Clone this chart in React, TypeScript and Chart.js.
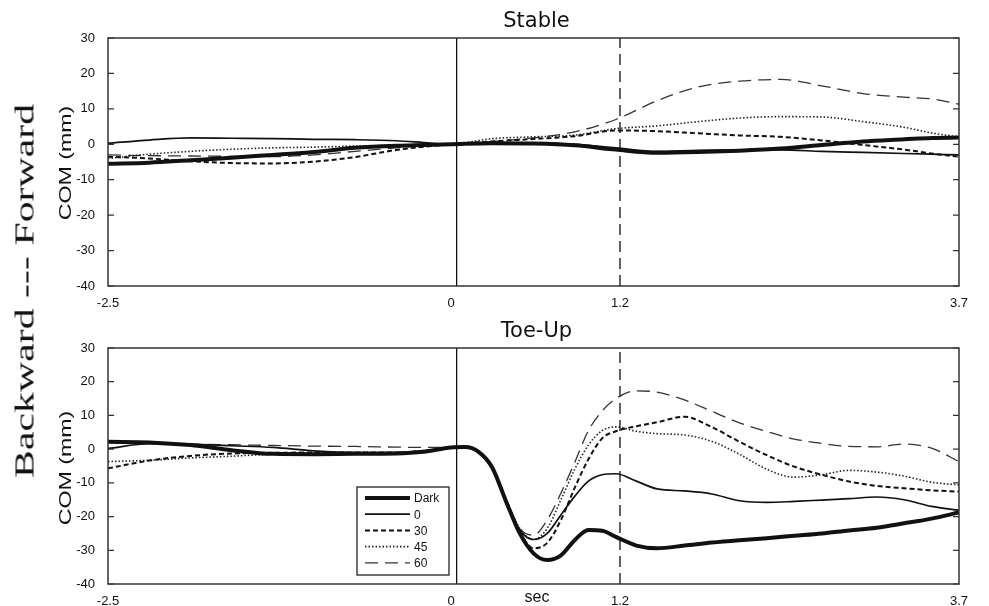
import React, { useEffect, useRef } from "react";
import { Chart, registerables } from "chart.js";

Chart.register(...registerables);

// ---------- data ----------
const seriesNames = ["Dark", "0", "30", "45", "60"];

const stableTime = [-2.5, -2.2, -1.9, -1.6, -1.3, -1.0, -0.7, -0.4, -0.2, 0, 0.3, 0.6, 0.9, 1.2, 1.5, 1.8, 2.1, 2.4, 2.7, 3.0, 3.3, 3.5, 3.7];
const stableDark = [-5.5, -5.2, -4.5, -3.8, -3.0, -2.2, -1.0, -0.4, -0.2, 0, 0.3, 0.2, -0.3, -1.5, -2.4, -2.2, -1.8, -1.2, -0.2, 0.8, 1.4, 1.8, 1.9];
const stable0 = [0.3, 1.2, 1.8, 1.7, 1.6, 1.4, 1.3, 1.0, 0.5, 0, 0.3, 0.3, 0, -1.0, -2.0, -1.7, -1.6, -1.6, -2.0, -2.3, -2.6, -2.8, -3.0];
const stable30 = [-3.5, -4.0, -4.8, -5.3, -5.4, -4.9, -3.6, -1.6, -0.7, 0, 0.8, 1.5, 2.3, 3.9, 3.7, 3.1, 2.5, 2.1, 1.1, -0.2, -1.5, -2.6, -3.5];
const stable45 = [-4.0, -2.8, -2.0, -1.4, -1.0, -0.8, -0.5, -0.3, -0.1, 0, 1.6, 2.1, 2.6, 4.4, 5.2, 6.4, 7.4, 7.8, 7.7, 6.4, 4.8, 3.2, 2.1];
const stable60 = [-3.0, -3.2, -3.3, -3.4, -3.5, -3.0, -2.0, -1.0, -0.4, 0, 0.8, 1.8, 3.5, 7.0, 12.3, 16.2, 17.8, 18.3, 16.5, 14.3, 13.3, 12.8, 11.3];

const toeTime = [-2.5, -2.2, -1.9, -1.6, -1.3, -1.0, -0.7, -0.4, -0.2, 0, 0.1, 0.2, 0.3, 0.4, 0.5, 0.6, 0.7, 0.8, 0.9, 1.0, 1.1, 1.2, 1.35, 1.5, 1.7, 1.9, 2.1, 2.3, 2.5, 2.7, 2.9, 3.1, 3.3, 3.5, 3.7];
const toeDark = [2.2, 2.0, 1.2, -0.3, -1.4, -1.5, -1.4, -1.3, -0.8, 0.5, 0.6, -0.8, -5.5, -15.5, -25.0, -30.9, -32.9, -31.5, -27.0, -24.0, -24.2, -26.0, -28.6, -29.4, -28.6, -27.7, -27.0, -26.4, -25.7, -25.0, -24.1, -23.3, -22.0, -20.6, -18.8];
const toe0 = [0.2, 1.6, 1.5, 1.0, 0.5, -0.5, -1.0, -1.0, -0.5, 0.5, 0.6, -0.8, -5.5, -15.0, -24.0, -26.8, -25.0, -19.5, -14.0, -9.5, -7.6, -7.3, -9.5, -11.8, -12.4, -13.3, -15.3, -15.8, -15.5, -15.1, -14.7, -14.2, -15.0, -17.0, -18.1];
const toe30 = [-5.7, -3.4, -2.0, -1.3, -1.1, -1.0, -1.0, -1.0, -0.5, 0.5, 0.6, -0.8, -5.5, -15.0, -24.5, -29.4, -27.8, -21.0, -11.5, -3.0, 3.2, 5.3, 6.8, 8.0, 9.6, 6.5, 2.2, -1.8, -5.2, -7.6, -9.6, -10.9, -11.6, -12.2, -12.6];
const toe45 = [-3.7, -3.3, -2.6, -2.1, -1.5, -1.2, -1.0, -1.0, -0.5, 0.5, 0.6, -0.8, -5.5, -15.0, -23.5, -26.8, -23.5, -15.0, -6.0, 1.2, 5.5, 6.6, 5.3, 4.6, 4.2, 2.3, -1.5, -6.0, -8.3, -7.6, -6.3, -6.8, -8.0, -9.8, -10.6];
const toe60 = [2.0, 1.8, 1.5, 1.3, 1.1, 0.9, 0.8, 0.6, 0.5, 0.5, 0.6, -0.8, -5.5, -15.0, -23.5, -25.5, -21.0, -13.0, -4.0, 5.5, 11.3, 15.0, 17.3, 16.9, 14.6, 11.2, 7.8, 5.2, 3.0, 1.7, 0.8, 0.7, 1.5, 0.3, -3.7];

const xMin = -2.5;
const xMax = 3.7;
const yMin = -40;
const yMax = 30;
const yStep = 10;
const xTickValues = [-2.5, 0, 1.23, 3.7];
const xTickLabels = ["-2.5", "0", "1.2", "3.7"];
const onsetTime = 0.04;
const markTime = 1.23;

// ---------- styles ----------
const lineStyles = [
  { width: 4, dash: [] as number[], color: "#111" },
  { width: 1.7, dash: [] as number[], color: "#111" },
  { width: 2, dash: [5, 3], color: "#111" },
  { width: 1.6, dash: [1.5, 2], color: "#222" },
  { width: 1.3, dash: [13, 7], color: "#333" },
];

const tickFont = { family: "'Liberation Sans', Arial, sans-serif", size: 13 };

function framePlugin(title: string, titleY: number) {
  return {
    id: "frameTitle" + title,
    afterDraw(chart: any) {
      const { ctx, chartArea } = chart;
      const ys = chart.scales.y;
      ctx.save();
      ctx.strokeStyle = "#333";
      ctx.lineWidth = 1.5;
      ctx.setLineDash([]);
      ctx.strokeRect(chartArea.left, chartArea.top, chartArea.right - chartArea.left, chartArea.bottom - chartArea.top);
      ctx.lineWidth = 1.2;
      ys.ticks.forEach((t: any) => {
        const py = ys.getPixelForValue(t.value);
        ctx.beginPath();
        ctx.moveTo(chartArea.left, py);
        ctx.lineTo(chartArea.left + 6, py);
        ctx.moveTo(chartArea.right, py);
        ctx.lineTo(chartArea.right - 6, py);
        ctx.stroke();
      });
      ctx.fillStyle = "#111";
      ctx.font = "21px 'DejaVu Sans', sans-serif";
      ctx.textAlign = "center";
      ctx.textBaseline = "middle";
      ctx.fillText(title, (chartArea.left + chartArea.right) / 2 + 3, titleY);
      ctx.restore();
    },
  };
}

const legendPlugin = {
  id: "boxLegend",
  afterDraw(chart: any) {
    const { ctx } = chart;
    const bx = 357, by = 187, bw = 92, bh = 88;
    ctx.save();
    ctx.fillStyle = "#fff";
    ctx.fillRect(bx, by, bw, bh);
    ctx.strokeStyle = "#222";
    ctx.lineWidth = 1.3;
    ctx.setLineDash([]);
    ctx.strokeRect(bx, by, bw, bh);
    ctx.font = "12px 'Liberation Sans', Arial, sans-serif";
    ctx.textBaseline = "middle";
    ctx.textAlign = "left";
    seriesNames.forEach((name, i) => {
      const st = lineStyles[i];
      const y = by + 11 + i * 16.2;
      ctx.strokeStyle = st.color;
      ctx.lineWidth = st.width;
      ctx.setLineDash(st.dash);
      ctx.beginPath();
      ctx.moveTo(bx + 8, y);
      ctx.lineTo(bx + 53, y);
      ctx.stroke();
      ctx.setLineDash([]);
      ctx.fillStyle = "#111";
      ctx.fillText(name, bx + 57, y + 1);
    });
    ctx.restore();
  },
};

function buildChart(
  canvas: HTMLCanvasElement,
  time: number[],
  series: number[][],
  title: string,
  padTop: number,
  xHeight: number,
  titleY: number,
  withLegend: boolean
) {
  const datasets: any[] = series.map((vals, i) => ({
    label: seriesNames[i],
    data: time.map((t, j) => ({ x: t, y: vals[j] })),
    borderColor: lineStyles[i].color,
    borderWidth: lineStyles[i].width,
    borderDash: lineStyles[i].dash,
    pointRadius: 0,
    fill: false,
    cubicInterpolationMode: "monotone",
    borderCapStyle: "butt",
  }));
  datasets.push({
    label: "onset",
    data: [{ x: onsetTime, y: yMin }, { x: onsetTime, y: yMax }],
    borderColor: "#111",
    borderWidth: 1.3,
    pointRadius: 0,
    fill: false,
  });
  datasets.push({
    label: "mark",
    data: [{ x: markTime, y: yMin }, { x: markTime, y: yMax }],
    borderColor: "#111",
    borderWidth: 1.3,
    borderDash: [11, 6],
    pointRadius: 0,
    fill: false,
  });
  const plugins: any[] = [framePlugin(title, titleY)];
  if (withLegend) plugins.push(legendPlugin);
  return new Chart(canvas, {
    type: "line",
    data: { datasets },
    options: {
      animation: false,
      responsive: false,
      maintainAspectRatio: false,
      layout: { padding: { top: padTop, right: 30, left: 0, bottom: 0 } },
      plugins: { legend: { display: false }, tooltip: { enabled: false }, title: { display: false } },
      scales: {
        x: {
          type: "linear",
          min: xMin,
          max: xMax,
          grid: { display: false },
          border: { display: false },
          afterBuildTicks: (s: any) => {
            s.ticks = xTickValues.map((v) => ({ value: v }));
          },
          afterFit: (s: any) => {
            s.height = xHeight;
          },
          ticks: {
            autoSkip: false,
            maxRotation: 0,
            padding: 2,
            color: "#111",
            font: tickFont,
            callback: (v: any) => {
              const i = xTickValues.indexOf(Number(v));
              return i >= 0 ? xTickLabels[i] : "";
            },
          },
        },
        y: {
          min: yMin,
          max: yMax,
          grid: { display: false },
          border: { display: false },
          afterFit: (s: any) => {
            s.width = 108;
          },
          ticks: { stepSize: yStep, padding: 5, color: "#111", font: tickFont },
        },
      },
    } as any,
    plugins,
  });
}

const rotLabel = (cx: number, cy: number, font: string, stretch: number): React.CSSProperties => ({
  position: "absolute",
  left: cx,
  top: cy,
  transform: `translate(-50%, -50%) rotate(-90deg) scaleX(${stretch})`,
  whiteSpace: "nowrap",
  font,
  color: "#111",
  lineHeight: 1,
});

export default function App() {
  const topRef = useRef<HTMLCanvasElement>(null);
  const botRef = useRef<HTMLCanvasElement>(null);

  useEffect(() => {
    const c1 = buildChart(
      topRef.current!,
      stableTime,
      [stableDark, stable0, stable30, stable45, stable60],
      "Stable",
      38,
      24,
      22,
      false
    );
    const c2 = buildChart(
      botRef.current!,
      toeTime,
      [toeDark, toe0, toe30, toe45, toe60],
      "Toe-Up",
      48,
      22,
      32,
      true
    );
    return () => {
      c1.destroy();
      c2.destroy();
    };
  }, []);

  return (
    <div style={{ position: "absolute", left: 0, top: 0, width: 989, height: 606, background: "#fff", overflow: "hidden" }}>
      <canvas ref={topRef} width={989} height={310} style={{ position: "absolute", left: 0, top: 0, width: 989, height: 310 }} />
      <canvas ref={botRef} width={989} height={306} style={{ position: "absolute", left: 0, top: 300, width: 989, height: 306 }} />
      <div style={rotLabel(25, 291, "27px 'Liberation Serif', 'Times New Roman', serif", 1.55)}>Backward --- Forward</div>
      <div style={rotLabel(66, 163, "16px 'Liberation Sans', Arial, sans-serif", 1.45)}>COM (mm)</div>
      <div style={rotLabel(66, 468, "16px 'Liberation Sans', Arial, sans-serif", 1.45)}>COM (mm)</div>
      <div
        style={{
          position: "absolute",
          left: 537,
          top: 597,
          transform: "translate(-50%, -50%)",
          font: "16px 'Liberation Sans', Arial, sans-serif",
          color: "#111",
          lineHeight: 1,
          whiteSpace: "nowrap",
        }}
      >
        sec
      </div>
    </div>
  );
}
